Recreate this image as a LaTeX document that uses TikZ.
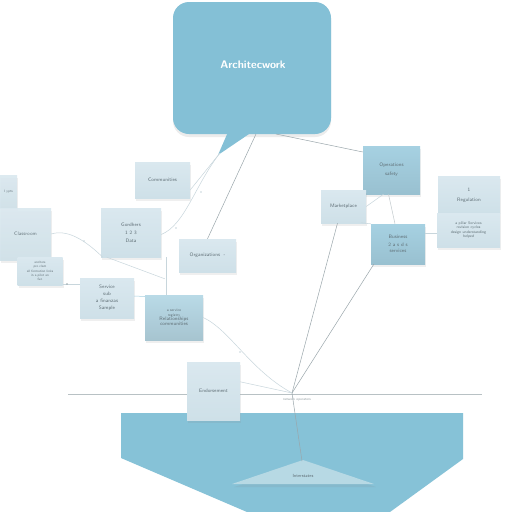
\documentclass[tikz,border=0pt]{standalone}
\usetikzlibrary{shadows,calc}
\definecolor{bubble}{HTML}{84C0D6}
\definecolor{bigblue}{HTML}{86C2D7}
\definecolor{tri}{HTML}{B7D9E4}
\definecolor{lbox}{HTML}{DAE8EF}
\definecolor{lboxb}{HTML}{CEE0E8}
\definecolor{dbox}{HTML}{A6D1E2}
\definecolor{mbox}{HTML}{B9DAE7}
\definecolor{txt}{HTML}{5F6E75}
\definecolor{conn}{HTML}{9AA6AB}
\definecolor{faint}{HTML}{C8D6DC}
\tikzset{
  card/.style={draw=none, top color=lbox, bottom color=lboxb, rectangle, inner sep=1pt,
     drop shadow={opacity=0.12, shadow xshift=1pt, shadow yshift=-2.5pt},
     font=\sffamily\fontsize{5}{6}\selectfont, text=txt, align=center},
  darkcard/.style={card, top color=dbox, bottom color=dbox!92!black},
  midcard/.style={card, top color=mbox, bottom color=mbox!90!black},
  conn/.style={draw=conn, line width=0.5pt},
  fconn/.style={draw=faint, line width=0.5pt},
  dot/.style={circle, fill=conn, inner sep=0.6pt},
}
\begin{document}
\begin{tikzpicture}[x=1pt,y=-1pt]
\useasboundingbox (0,0) rectangle (512,512);
\fill[white] (0,0) rectangle (512,512);
% big blue shape
\begin{scope}
\clip (0,0) rectangle (512,512);
\fill[bigblue] (121,413) -- (463,413) -- (463,459) -- (390,512) -- (247,512) -- (121,458) -- cycle;
\end{scope}
% horizontal line
\draw[conn, draw=conn!70] (68,394) -- (482,394);
\node[font=\sffamily\fontsize{3.5}{4}\selectfont, text=txt!70] (netlab) at (297,400) {network operators};
% triangle
\fill[tri, drop shadow={opacity=0.12, shadow yshift=-3pt}] (232,484) -- (303,460) -- (374,484) -- cycle;
\node[font=\sffamily\fontsize{4.5}{5}\selectfont, text=txt] (tri) at (303,476) {Interstates};
\coordinate (tritop) at (302,461);
\coordinate (hub) at (292,393);
% speech bubble
\fill[bubble, rounded corners=16pt, drop shadow={opacity=0.15, shadow xshift=0pt, shadow yshift=-3pt}] (173,2) rectangle (331,134);
\fill[bubble] (228,132) -- (252,132) -- (218,155) -- cycle;
\node[text=white, font=\sffamily\bfseries\fontsize{11}{12}\selectfont] (title) at (253,65) {Architecwork};
\coordinate (bub1) at (256,134);
\coordinate (bub2) at (276,134);
\coordinate (tail) at (220,153);

% left cards
\node[card, minimum width=55, minimum height=36] (A) at (162.5,180) {Communities};
\node[card, minimum width=60, minimum height=49] (B) at (131,232.5) {Gordhers\\[2pt] \tiny 1 2 3\\[2pt] Data};
\node[card, minimum width=57, minimum height=33] (C) at (207.5,255.5) {Organizations \ -};
\node[card, minimum width=17, minimum height=33, opacity=0.9, font=\sffamily\fontsize{3.5}{4}\selectfont] (D0) at (8.5,191.5) {I ypts};
\node[card, minimum width=51, minimum height=52, opacity=0.9] (D) at (25.5,234) {Classroom};
\node[card, minimum width=45, minimum height=28, font=\sffamily\fontsize{3.3}{4.2}\selectfont] (E) at (40,271) {anchors\\ pro clam\\ all formation links\\ in a pilot an\\ fun};
\node[card, minimum width=54, minimum height=40] (F) at (107,298) {Service\\[1pt] sub\\[1pt] a finanzas\\[1pt] Sample};
\node[midcard, minimum width=58, minimum height=45, font=\sffamily\fontsize{3.8}{4.5}\selectfont] (G) at (174,317.5) {a service\\ registry\\ \fontsize{5}{6}\selectfont Relationships\\ \fontsize{5}{6}\selectfont communities};
\node[card, minimum width=53, minimum height=58] (M) at (213.5,391) {Endorsement};

% right cards
\node[darkcard, minimum width=57, minimum height=48] (H) at (391.5,170) {Operations\\[3pt] \tiny safety};
\node[card, minimum width=45, minimum height=33] (I) at (343.5,206.5) {Marketplace};
\node[darkcard, minimum width=54, minimum height=40] (J) at (398,244) {Business\\[2pt] \tiny 2 a s d s\\ \tiny services};
\node[card, minimum width=62, minimum height=37] (K) at (469,195) {1\\[4pt] Regulation};
\node[card, minimum width=63, minimum height=34, font=\sffamily\fontsize{3.8}{4.5}\selectfont] (L) at (468.5,230) {a pillar Services\\ revision cycles\\ design understanding\\ \textit{helped}};

% connectors
\draw[conn] (bub1) -- (C.north);
\draw[conn] (bub2) -- ($(H.west)+(0,-18)$);
\draw[conn] (I.south) ++(-6,0) coordinate (Is) -- (hub);
\draw[conn] (J.south west) ++(3,0) coordinate (Js) -- (hub);
\draw[conn] (hub) -- (tritop);
\draw[fconn] (B.east) ++(0,2) .. controls (185,225) and (195,185) .. (tail);
\draw[fconn] (A.east) ++(0,10) -- (tail);
\node[dot, fill=faint] (d1) at (176,228) {};
\node[dot, fill=faint] (d2) at (201,192) {};
\draw[fconn] (G.east) .. controls (230,330) and (250,370) .. (hub);
\draw[fconn] (M.north east) ++(0,20) -- (hub);
\node[dot, fill=faint] (d3) at (240,352) {};
\draw[fconn] (B.south west) ++(2,0) .. controls (90,245) and (70,228) .. (D.east);
\node[dot, fill=faint] (d4) at (84,241) {};
\draw[fconn] (F.west) ++(0,-14) -- (E.east |- 0,284);
\node[dot] (d5) at (67,284) {};
\draw[conn, draw=dbox] ($(F.east)+(0,-2)$) -- ($(G.west)+(0,-21)$);
\draw[fconn] ($(B.south)+(35,0)$) -- ($(G.north)+(-8,0)$);
\draw[fconn] (B.south west) ++(6,0) -- ($(G.north west)+(20,-16)$);
\draw[fconn] (I.east) -- ($(H.south)+(-8,0)$);
\draw[conn, draw=conn!60] ($(H.south)+(-3,0)$) -- ($(J.north)+(-3,0)$);
\draw[fconn] (J.east) ++(0,-11) -- ($(L.west)+(0,3)$);
\draw[fconn] ($(J.north west)+(-10,-1)$) -- (J.north west);
\end{tikzpicture}
\end{document}
